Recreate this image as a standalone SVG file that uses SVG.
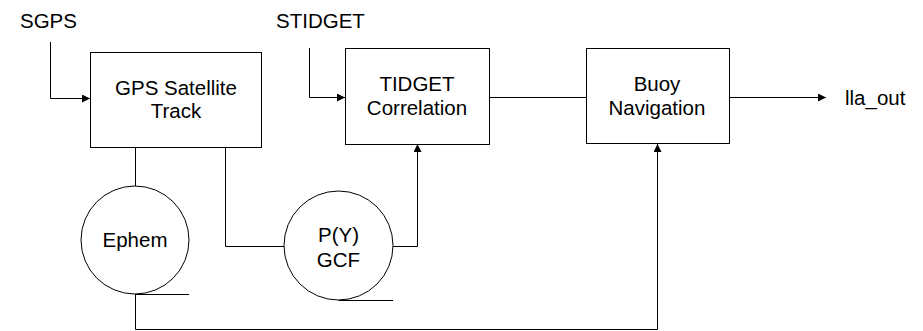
<svg xmlns="http://www.w3.org/2000/svg" width="923" height="331" viewBox="0 0 923 331">
<style>
.box{fill:#fff;stroke:#000;stroke-width:1}
.circ{fill:#fff;stroke:#000;stroke-width:1}
.ln{fill:none;stroke:#000;stroke-width:1}
text{font-family:"Liberation Sans",Arial,sans-serif;font-size:20.5px;fill:#000}
.c{text-anchor:middle}
</style>
<defs>
<marker id="arr" viewBox="0 0 8 8" refX="8" refY="4" markerWidth="8" markerHeight="8" markerUnits="userSpaceOnUse" orient="auto">
<path d="M0,0 L8,4 L0,8 Z" fill="#000"/>
</marker>
</defs>
<g id="connectors">
<path class="ln" d="M50.5,42 V98.5 H90" marker-end="url(#arr)"/>
<path class="ln" d="M309.5,48 V97.5 H345" marker-end="url(#arr)"/>
<path class="ln" d="M489,97.5 H586"/>
<path class="ln" d="M729,97.5 H826" marker-end="url(#arr)"/>
<path class="ln" d="M135.5,147 V186"/>
<path class="ln" d="M225.5,147 V246.5 H284"/>
<path class="ln" d="M393,246.5 H417.5 V144" marker-end="url(#arr)"/>
<path class="ln" d="M135.5,294 V329.5 H657.5 V144" marker-end="url(#arr)"/>
</g>
<g id="sgps"><text x="20" y="28">SGPS</text></g>
<g id="stidget"><text x="276" y="28">STIDGET</text></g>
<g id="lla_out"><text x="845" y="105">lla_out</text></g>
<g id="gps">
<rect class="box" x="90.5" y="52.5" width="171" height="95"/>
<text class="c" x="176" y="95">GPS Satellite</text>
<text class="c" x="176" y="118">Track</text>
</g>
<g id="tidget">
<rect class="box" x="345.5" y="48.5" width="144" height="96"/>
<text class="c" x="417" y="91">TIDGET</text>
<text class="c" x="417" y="115">Correlation</text>
</g>
<g id="buoy">
<rect class="box" x="586.5" y="48.5" width="143" height="95"/>
<text class="c" x="657" y="91">Buoy</text>
<text class="c" x="657" y="115">Navigation</text>
</g>
<g id="ephem">
<circle class="circ" cx="135" cy="240" r="54"/>
<path class="ln" d="M135,294.5 H189"/>
<text class="c" x="135" y="247">Ephem</text>
</g>
<g id="pygcf">
<circle class="circ" cx="338.5" cy="245.5" r="54.5"/>
<path class="ln" d="M338.5,300.5 H393"/>
<text class="c" x="338.5" y="242">P(Y)</text>
<text class="c" x="338.5" y="267">GCF</text>
</g>
</svg>
